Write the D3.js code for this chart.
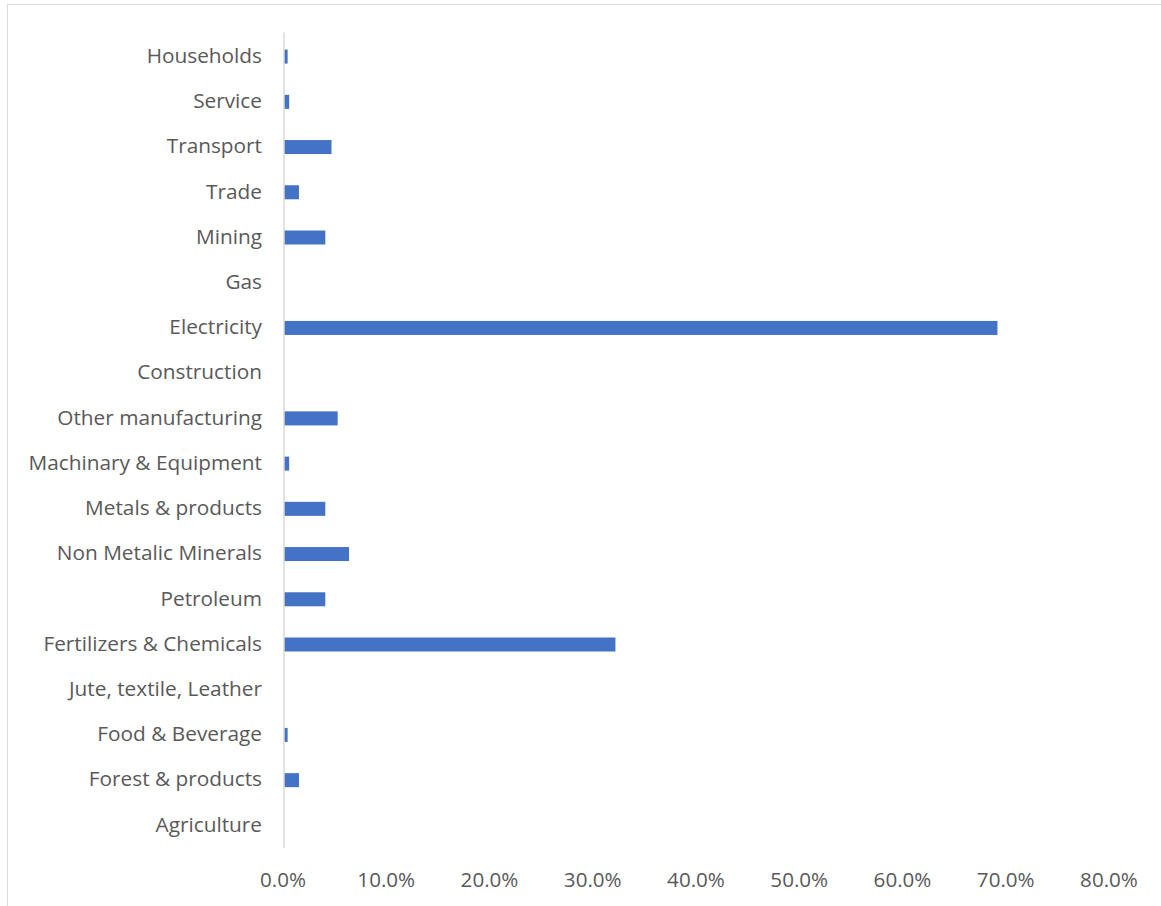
<!DOCTYPE html>
<html>
<head>
<meta charset="utf-8">
<script src="https://cdn.jsdelivr.net/npm/d3@7"></script>
<style>
  body { margin: 0; background: #fff; }
  svg { display: block; }
  text { font-family: "Open Sans", "Noto Sans", sans-serif; fill: #595959; }
</style>
</head>
<body>
<div id="chart"></div>
<script>
// Data, top to bottom as drawn
const categories = [
    'Households', 'Service', 'Transport', 'Trade', 'Mining', 'Gas',
    'Electricity', 'Construction', 'Other manufacturing', 'Machinary & Equipment',
    'Metals & products', 'Non Metalic Minerals', 'Petroleum', 'Fertilizers & Chemicals',
    'Jute, textile, Leather', 'Food & Beverage', 'Forest & products', 'Agriculture'
];
const values = [
    0.35, 0.5, 4.6, 1.45, 4.0, 0,
    69.1, 0, 5.2, 0.5,
    4.0, 6.3, 4.0, 32.1,
    0, 0.35, 1.45, 0
];
const xTicks = [0, 10, 20, 30, 40, 50, 60, 70, 80];

const width = 1161;
const height = 906;
const margin = {top: 34, right: 51, bottom: 58, left: 284};

const svg = d3.select('#chart')
    .append('svg')
    .attr('width', width)
    .attr('height', height);

// chart border
svg.append('rect')
    .attr('x', 7.5)
    .attr('y', 4.5)
    .attr('width', width + 10)
    .attr('height', height + 10)
    .attr('fill', 'none')
    .attr('stroke', '#d9d9d9')
    .attr('stroke-width', 1);

const x = d3.scaleLinear()
    .domain([0, 80])
    .range([margin.left, width - margin.right]);

const y = d3.scaleBand()
    .domain(categories)
    .range([margin.top, height - margin.bottom])
    .paddingInner(0.69)
    .paddingOuter(0.345);

// bars
svg.append('g')
    .selectAll('rect')
    .data(categories)
    .enter()
    .append('rect')
    .attr('x', x(0))
    .attr('y', d => y(d))
    .attr('width', (d, i) => x(values[i]) - x(0))
    .attr('height', y.bandwidth())
    .attr('fill', '#4472C4');

// vertical axis line
svg.append('line')
    .attr('x1', x(0))
    .attr('x2', x(0))
    .attr('y1', margin.top - 1.5)
    .attr('y2', height - margin.bottom)
    .attr('stroke', '#d9d9d9')
    .attr('stroke-width', 1.5);

// category labels
svg.append('g')
    .selectAll('text')
    .data(categories)
    .enter()
    .append('text')
    .attr('x', x(0) - 22)
    .attr('y', d => y(d) + y.bandwidth() / 2 - 1)
    .attr('dy', '0.35em')
    .attr('text-anchor', 'end')
    .style('font-size', '20.8px')
    .text(d => d);

// x tick labels
svg.append('g')
    .selectAll('text')
    .data(xTicks)
    .enter()
    .append('text')
    .attr('x', d => x(d) - 1)
    .attr('y', 880)
    .attr('dy', '0.35em')
    .attr('text-anchor', 'middle')
    .style('font-size', '20.6px')
    .text(d => d3.format('.1f')(d) + '%');
</script>
</body>
</html>
